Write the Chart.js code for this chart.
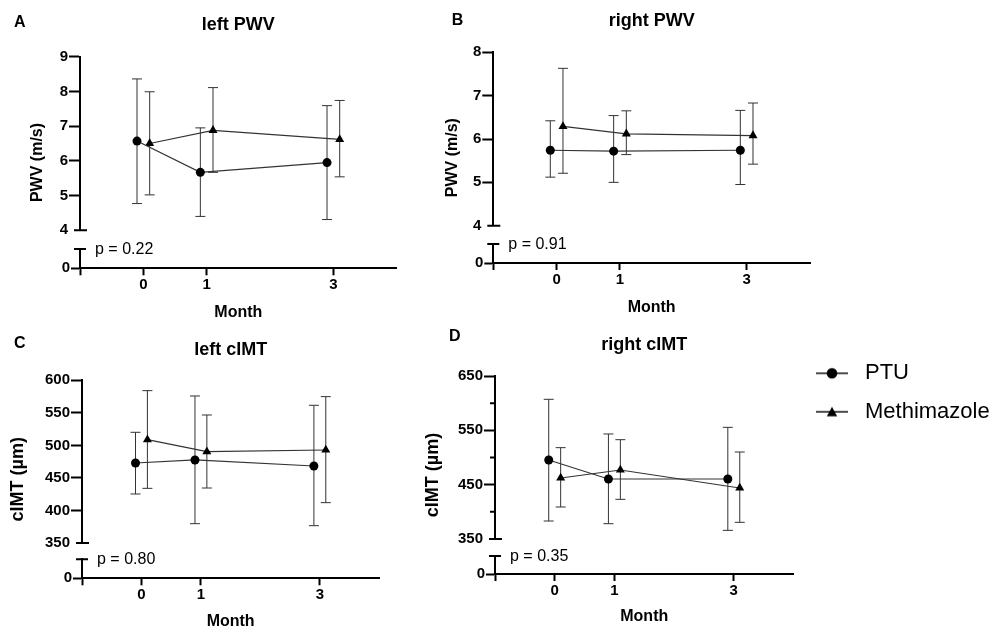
<!DOCTYPE html>
<html>
<head>
<meta charset="utf-8">
<script src="https://cdn.jsdelivr.net/npm/chart.js@4.4.1/dist/chart.umd.min.js"></script>
<style>
  body { margin: 0; background: #fff; }
  #page { position: relative; width: 998px; height: 632px; overflow: hidden; }
  #page canvas { position: absolute; }
</style>
</head>
<body>
<div id="page">
  <canvas id="panelA" width="420" height="330" style="left:0;top:0"></canvas>
  <canvas id="panelB" width="420" height="330" style="left:420px;top:0"></canvas>
  <canvas id="panelC" width="420" height="312" style="left:0;top:320px"></canvas>
  <canvas id="panelD" width="590" height="312" style="left:420px;top:320px"></canvas>
</div>
<script>
const months = [0, 1, 3];
const monthTicks = [-1, 0, 1, 3];
const lowerTicks = [0, 1];

// A: left PWV (m/s)
const leftPwvTicks = [4, 5, 6, 7, 8, 9];
const leftPwvPtu = [6.57, 5.67, 5.95];
const leftPwvPtuLow = [4.77, 4.40, 4.31];
const leftPwvPtuHigh = [8.36, 6.95, 7.59];
const leftPwvMmi = [6.50, 6.88, 6.62];
const leftPwvMmiLow = [5.02, 5.67, 5.54];
const leftPwvMmiHigh = [7.99, 8.11, 7.74];

// B: right PWV (m/s)
const rightPwvTicks = [4, 5, 6, 7, 8];
const rightPwvPtu = [5.74, 5.72, 5.74];
const rightPwvPtuLow = [5.12, 5.00, 4.95];
const rightPwvPtuHigh = [6.42, 6.54, 6.66];
const rightPwvMmi = [6.29, 6.12, 6.08];
const rightPwvMmiLow = [5.21, 5.64, 5.42];
const rightPwvMmiHigh = [7.63, 6.65, 6.83];

// C: left cIMT (µm)
const leftImtTicks = [350, 400, 450, 500, 550, 600];
const leftImtPtu = [472.9, 477.6, 468.3];
const leftImtPtuLow = [425.3, 379.7, 376.6];
const leftImtPtuHigh = [520.1, 575.9, 561.6];
const leftImtMmi = [508.8, 490.4, 492.9];
const leftImtMmiLow = [434.0, 434.5, 412.0];
const leftImtMmiHigh = [584.1, 546.7, 574.9];

// D: right cIMT (µm)
const rightImtTicks = [350, 400, 450, 500, 550, 600, 650];
const rightImtLabels = [350, 450, 550, 650];
const rightImtPtu = [495.4, 460.4, 460.4];
const rightImtPtuLow = [383.1, 378.2, 365.9];
const rightImtPtuHigh = [607.1, 543.3, 555.5];
const rightImtMmi = [462.3, 477.0, 443.9];
const rightImtMmiLow = [408.9, 423.0, 380.7];
const rightImtMmiHigh = [518.1, 532.8, 510.1];

const seriesNames = ['PTU', 'Methimazole'];
const pValues = ['p = 0.22', 'p = 0.91', 'p = 0.80', 'p = 0.35'];

const FONT = '"Liberation Sans", Arial, Helvetica, sans-serif';
const INK = '#000';
const LINE = '#333';
const OFF = 0.1;       // horizontal nudge of the two groups
Chart.defaults.font.family = FONT;
Chart.defaults.color = INK;

// legend symbol: short line with the marker on it
function legendMarker(style) {
    const c = document.createElement('canvas');
    c.width = 32; c.height = 14;
    const g = c.getContext('2d');
    g.strokeStyle = '#111'; g.lineWidth = 1.5;
    g.beginPath(); g.moveTo(0, 7); g.lineTo(32, 7); g.stroke();
    g.fillStyle = INK;
    g.beginPath();
    if (style == 'circle') {
        g.arc(16, 7, 5.3, 0, Math.PI * 2);
    } else {
        g.moveTo(16, 2); g.lineTo(10.8, 11.5); g.lineTo(21.2, 11.5); g.closePath();
    }
    g.fill();
    return c;
}
const markers = [legendMarker('circle'), legendMarker('triangle')];

// letters, p values, axis break caps and short minor ticks
const panelDecor = {
    id: 'panelDecor',
    afterDraw(chart, args, o) {
        const ctx = chart.ctx;
        const up = chart.scales.yTop, lo = chart.scales.yBot;
        const x0 = chart.chartArea.left;
        ctx.save();
        ctx.strokeStyle = INK;
        ctx.lineWidth = 2;
        ctx.beginPath();
        ctx.moveTo(x0 - 6, up.bottom); ctx.lineTo(x0 + 7, up.bottom);
        ctx.moveTo(x0 - 6, lo.top); ctx.lineTo(x0 + 6, lo.top);
        (o.minor || []).forEach(v => {
            const y = up.getPixelForValue(v);
            ctx.moveTo(x0 - 5, y); ctx.lineTo(x0, y);
        });
        ctx.stroke();
        ctx.fillStyle = INK;
        ctx.textBaseline = 'middle';
        ctx.textAlign = 'left';
        ctx.font = 'bold 16px ' + FONT;
        ctx.fillText(o.letter, o.letterX, o.letterY);
        ctx.font = '16px ' + FONT;
        ctx.fillText(o.pText, x0 + 15, lo.top + 0.5);
        ctx.restore();
    }
};

var meanData = function(mean, off) {
    return months.map((m, i) => ({x: m + off, y: mean[i]}));
};

var barData = function(low, high, off) {
    let pts = [];
    months.forEach((m, i) => {
        pts.push({x: m + off, y: low[i]}, {x: m + off, y: high[i]}, {x: m + off, y: null});
    });
    return pts;
};

var makePanel = function(id, p) {
    const g = p.geo;
    const labels = p.labels || p.ticks;
    const minor = p.ticks.filter(v => !labels.includes(v));
    const yMin = p.ticks[0], yMax = p.ticks[p.ticks.length - 1];
    const hidden = 'rgba(0,0,0,0)';
    const yTitleSize = p.yTitleSize || 16;

    const datasets = [
        {label: seriesNames[0], data: meanData(p.ptu, -OFF), showLine: true,
         borderColor: LINE, borderWidth: 1.2, pointStyle: 'circle', pointRadius: 4.5,
         pointBackgroundColor: INK, pointBorderWidth: 0, xAxisID: 'x', yAxisID: 'yTop', order: 0},
        {label: seriesNames[1], data: meanData(p.mmi, OFF), showLine: true,
         borderColor: LINE, borderWidth: 1.2, pointStyle: 'triangle', pointRadius: 5.2,
         pointBackgroundColor: INK, pointBorderWidth: 0, xAxisID: 'x', yAxisID: 'yTop', order: 0},
        {label: 'PTU error', data: barData(p.ptuLow, p.ptuHigh, -OFF), showLine: true, spanGaps: false,
         borderColor: LINE, borderWidth: 1, pointStyle: 'line', pointRadius: 5,
         pointBorderColor: LINE, pointBorderWidth: 1, xAxisID: 'x', yAxisID: 'yTop', order: 1},
        {label: 'Methimazole error', data: barData(p.mmiLow, p.mmiHigh, OFF), showLine: true, spanGaps: false,
         borderColor: LINE, borderWidth: 1, pointStyle: 'line', pointRadius: 5,
         pointBorderColor: LINE, pointBorderWidth: 1, xAxisID: 'x', yAxisID: 'yTop', order: 1}
    ];

    const legend = p.legend ? {
        display: true, position: 'right', align: 'start', fullSize: true, maxWidth: 260,
        title: {display: true, text: '', font: {size: 10, lineHeight: 1}, padding: {top: 0, bottom: 15.8}},
        labels: {
            usePointStyle: true, pointStyleWidth: 44, padding: 16.5,
            font: {size: 22}, color: INK,
            filter: item => item.datasetIndex < 2,
            generateLabels: chart => Chart.defaults.plugins.legend.labels.generateLabels(chart)
                .map(l => Object.assign(l, {pointStyle: markers[l.datasetIndex]}))
        }
    } : {display: false};

    return new Chart(document.getElementById(id), {
        type: 'scatter',
        data: {datasets: datasets},
        options: {
            responsive: false,
            animation: false,
            events: [],
            layout: {padding: {left: 0, top: 0, bottom: 0, right: g.padRight}},
            plugins: {
                legend: legend,
                tooltip: {enabled: false},
                title: {
                    display: true, text: p.title, fullSize: false, color: INK,
                    font: {size: 18, weight: 'bold', lineHeight: 1.2},
                    padding: {top: g.titleY - 10.8, bottom: g.top - g.titleY - 10.8}
                },
                panelDecor: {letter: p.letter, letterX: g.letterX, letterY: g.letterY, pText: p.pText, minor: minor}
            },
            scales: {
                x: {
                    type: 'linear', position: 'bottom', min: -1, max: 4,
                    afterBuildTicks: ax => { ax.ticks = monthTicks.map(v => ({value: v})); },
                    afterFit: ax => { ax.height = g.h - g.bottom; },
                    ticks: {autoSkip: false, maxRotation: 0, padding: 1, color: INK,
                            font: {size: 15, weight: 'bold'},
                            callback: v => (v < 0 ? '' : String(v))},
                    grid: {drawOnChartArea: false, tickLength: 7, tickWidth: 2, tickColor: INK},
                    border: {color: INK, width: 2},
                    title: {display: true, text: 'Month', color: INK,
                            font: {size: 16, weight: 'bold', lineHeight: 1.2},
                            padding: {top: 0, bottom: g.h - g.monthY - 9.6}}
                },
                yTitle: {
                    axis: 'y', type: 'linear', position: 'left', weight: 10,
                    afterFit: ax => { ax.width = g.axisX - g.stackW; },
                    ticks: {display: false}, grid: {display: false}, border: {display: false},
                    title: {display: true, text: p.yTitle, color: INK,
                            font: {size: yTitleSize, weight: 'bold', lineHeight: 1.2},
                            padding: {top: g.yTitleX - yTitleSize * 0.6, bottom: 0}}
                },
                yTop: {
                    axis: 'y', type: 'linear', position: 'left', stack: 'brk', weight: 3,
                    stackWeight: g.upperBottom - g.top, min: yMin, max: yMax,
                    afterBuildTicks: ax => { ax.ticks = p.ticks.map(v => ({value: v})); },
                    afterFit: ax => { ax.width = g.stackW; },
                    ticks: {autoSkip: false, padding: 1, color: INK, font: {size: 15, weight: 'bold'},
                            callback: v => (labels.includes(v) ? String(v) : '')},
                    grid: {drawOnChartArea: false, tickLength: 11, tickWidth: 2,
                           tickColor: c => (c.tick && (c.tick.value == yMin || minor.includes(c.tick.value)) ? hidden : INK)},
                    border: {color: INK, width: 2}
                },
                yGap: {
                    axis: 'y', type: 'linear', position: 'left', stack: 'brk', weight: 2,
                    stackWeight: g.lowerTop - g.upperBottom, display: false
                },
                yBot: {
                    axis: 'y', type: 'linear', position: 'left', stack: 'brk', weight: 1,
                    stackWeight: g.bottom - g.lowerTop, min: 0, max: 1,
                    afterBuildTicks: ax => { ax.ticks = lowerTicks.map(v => ({value: v})); },
                    ticks: {autoSkip: false, padding: 1, color: INK, font: {size: 15, weight: 'bold'},
                            callback: v => (v == 0 ? '0' : '')},
                    grid: {drawOnChartArea: false, tickLength: 9, tickWidth: 2,
                           tickColor: c => (c.tick && c.tick.value == 1 ? hidden : INK)},
                    border: {color: INK, width: 2}
                }
            }
        },
        plugins: [panelDecor]
    });
};

makePanel('panelA', {
    title: 'left PWV', yTitle: 'PWV (m/s)', letter: 'A', pText: pValues[0],
    ticks: leftPwvTicks,
    ptu: leftPwvPtu, ptuLow: leftPwvPtuLow, ptuHigh: leftPwvPtuHigh,
    mmi: leftPwvMmi, mmiLow: leftPwvMmiLow, mmiHigh: leftPwvMmiHigh,
    geo: {h: 330, axisX: 80, stackW: 30, top: 56.7, upperBottom: 230.3, lowerTop: 249, bottom: 268.3,
          padRight: 420 - 396.7, titleY: 25, yTitleX: 38, monthY: 313, letterX: 14, letterY: 22.5}
});

makePanel('panelB', {
    title: 'right PWV', yTitle: 'PWV (m/s)', letter: 'B', pText: pValues[1],
    ticks: rightPwvTicks,
    ptu: rightPwvPtu, ptuLow: rightPwvPtuLow, ptuHigh: rightPwvPtuHigh,
    mmi: rightPwvMmi, mmiLow: rightPwvMmiLow, mmiHigh: rightPwvMmiHigh,
    geo: {h: 330, axisX: 73.3, stackW: 30, top: 52.3, upperBottom: 225.7, lowerTop: 244, bottom: 263,
          padRight: 420 - 390, titleY: 21, yTitleX: 33, monthY: 308, letterX: 31.7, letterY: 21}
});

makePanel('panelC', {
    title: 'left cIMT', yTitle: 'cIMT (µm)', yTitleSize: 18, letter: 'C', pText: pValues[2],
    ticks: leftImtTicks,
    ptu: leftImtPtu, ptuLow: leftImtPtuLow, ptuHigh: leftImtPtuHigh,
    mmi: leftImtMmi, mmiLow: leftImtMmiLow, mmiHigh: leftImtMmiHigh,
    geo: {h: 312, axisX: 82, stackW: 48, top: 60.3, upperBottom: 223, lowerTop: 239.3, bottom: 258.3,
          padRight: 420 - 379.3, titleY: 30, yTitleX: 18, monthY: 301.7, letterX: 14, letterY: 23.5}
});

makePanel('panelD', {
    title: 'right cIMT', yTitle: 'cIMT (µm)', yTitleSize: 18, letter: 'D', pText: pValues[3],
    ticks: rightImtTicks, labels: rightImtLabels, legend: true,
    ptu: rightImtPtu, ptuLow: rightImtPtuLow, ptuHigh: rightImtPtuHigh,
    mmi: rightImtMmi, mmiLow: rightImtMmiLow, mmiHigh: rightImtMmiHigh,
    geo: {h: 312, axisX: 75, stackW: 48, top: 56, upperBottom: 219, lowerTop: 236, bottom: 254,
          padRight: 10.3, titleY: 25.3, yTitleX: 13, monthY: 297, letterX: 29, letterY: 16.7}
});
</script>
</body>
</html>
